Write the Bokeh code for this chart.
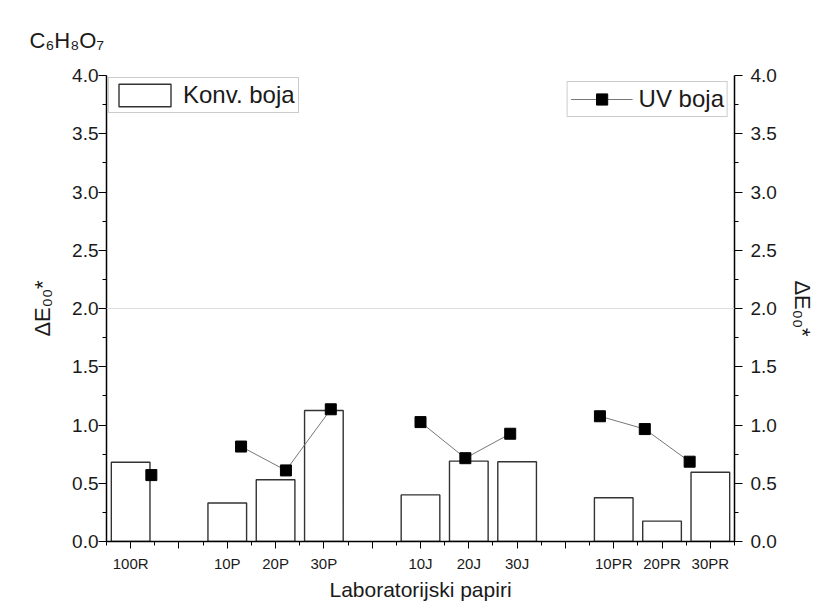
import math
from bokeh.plotting import figure
from bokeh.models import (Range1d, LinearAxis, FixedTicker, Span, Legend, LegendItem,
                          ColumnDataSource, PrintfTickFormatter)
from bokeh.embed import file_html
from bokeh.resources import INLINE

# ---------------- data ----------------
categories = ["100R", "", "10P", "20P", "30P", "", "10J", "20J", "30J", "", "10PR", "20PR", "30PR"]
konv_boja = [0.68, None, 0.33, 0.53, 1.125, None, 0.40, 0.69, 0.685, None, 0.375, 0.175, 0.595]
uv_boja = [0.57, None, 0.815, 0.61, 1.135, None, 1.025, 0.715, 0.925, None, 1.075, 0.965, 0.685]
y_ticks = [0.0, 0.5, 1.0, 1.5, 2.0, 2.5, 3.0, 3.5, 4.0]
y_minor = [0.25, 0.75, 1.25, 1.75, 2.25, 2.75, 3.25, 3.75]
ref_level = 2.0
title_text = "C₆H₈O₇"
y_title = "ΔE₀₀*"
x_title = "Laboratorijski papiri"

positions = list(range(1, len(categories) + 1))
FONT = "Liberation Sans"
TXT = "#1a1a1a"

bar_src = ColumnDataSource(dict(
    x=[p for p, v in zip(positions, konv_boja) if v is not None],
    top=[v for v in konv_boja if v is not None]))
uv_src = ColumnDataSource(dict(
    x=positions,
    y=[float("nan") if v is None else v for v in uv_boja]))

p = figure(frame_width=628, frame_height=466,
           x_range=Range1d(0.5, 13.5), y_range=Range1d(0, 4),
           output_backend="svg", toolbar_location=None,
           min_border_left=106, min_border_right=80, min_border_top=75, min_border_bottom=66,
           title=title_text)
p.extra_x_ranges = {"uv": Range1d(0, 14)}
p.outline_line_color = None
p.xgrid.visible = False
p.ygrid.visible = False
p.background_fill_color = "white"

p.title.text_font = FONT
p.title.text_font_size = "22px"
p.title.text_font_style = "normal"
p.title.text_color = TXT
p.title.offset = -77
p.title.standoff = 46

bars = p.vbar(x="x", top="top", width=0.8, bottom=0, source=bar_src,
              fill_color="white", line_color="#333333", line_width=1.4)
ref = Span(location=ref_level, dimension="width", line_color="#dddddd", line_width=1)
p.add_layout(ref)
uv_line = p.line(x="x", y="y", source=uv_src, x_range_name="uv",
                 line_color="#777777", line_width=1)
uv_pts = p.scatter(x="x", y="y", source=uv_src, x_range_name="uv", marker="square",
                   size=11, fill_color="black", line_color="black")

# x axis
xa = p.xaxis[0]
xa.ticker = FixedTicker(ticks=positions, minor_ticks=[x + 0.5 for x in range(0, 14)])
xa.major_label_overrides = {pos: lab for pos, lab in zip(positions, categories)}
xa.major_label_text_font = FONT
xa.major_label_text_font_size = "15px"
xa.major_label_text_color = TXT
xa.axis_label = x_title
xa.axis_label_text_font = FONT
xa.axis_label_text_font_size = "21px"
xa.axis_label_text_font_style = "normal"
xa.axis_label_text_color = TXT
xa.axis_label_standoff = 3
xa.major_tick_in = 0
xa.major_tick_out = 7
xa.minor_tick_in = 0
xa.minor_tick_out = 4
xa.axis_line_width = 1.5
xa.major_label_standoff = 6

def style_y(ax):
    ax.ticker = FixedTicker(ticks=y_ticks, minor_ticks=y_minor)
    ax.formatter = PrintfTickFormatter(format="%.1f")
    ax.major_label_text_font = FONT
    ax.major_label_text_font_size = "19px"
    ax.major_label_text_color = TXT
    ax.axis_label = y_title
    ax.axis_label_text_font = FONT
    ax.axis_label_text_font_size = "22px"
    ax.axis_label_text_font_style = "normal"
    ax.axis_label_text_color = TXT
    ax.major_tick_in = 0
    ax.major_tick_out = 8
    ax.minor_tick_in = 0
    ax.minor_tick_out = 4
    ax.axis_line_width = 1.5

ya = p.yaxis[0]
style_y(ya)
ya.major_label_standoff = 0
ya.axis_label_standoff = 14

yr = LinearAxis()
style_y(yr)
yr.major_label_standoff = 8
yr.axis_label_standoff = 10
p.add_layout(yr, "right")

leg1 = Legend(items=[LegendItem(label="Konv. boja", renderers=[bars])],
              location="top_left", margin=2, padding=3,
              glyph_width=65, glyph_height=28, label_height=28,
              label_text_font=FONT, label_text_font_size="24px", label_standoff=6,
              label_text_color=TXT,
              border_line_color="#999999", border_line_width=1.5,
              background_fill_alpha=1.0)
leg2 = Legend(items=[LegendItem(label="UV boja", renderers=[uv_line, uv_pts])],
              location="top_right", margin=6, padding=3,
              glyph_width=62, glyph_height=28, label_height=28,
              label_text_font=FONT, label_text_font_size="24px", label_standoff=6,
              label_text_color=TXT,
              border_line_color="#999999", border_line_width=1.5,
              background_fill_alpha=1.0)
p.add_layout(leg1, "center")
p.add_layout(leg2, "center")

open("out.html", "w").write(file_html(p, INLINE))
